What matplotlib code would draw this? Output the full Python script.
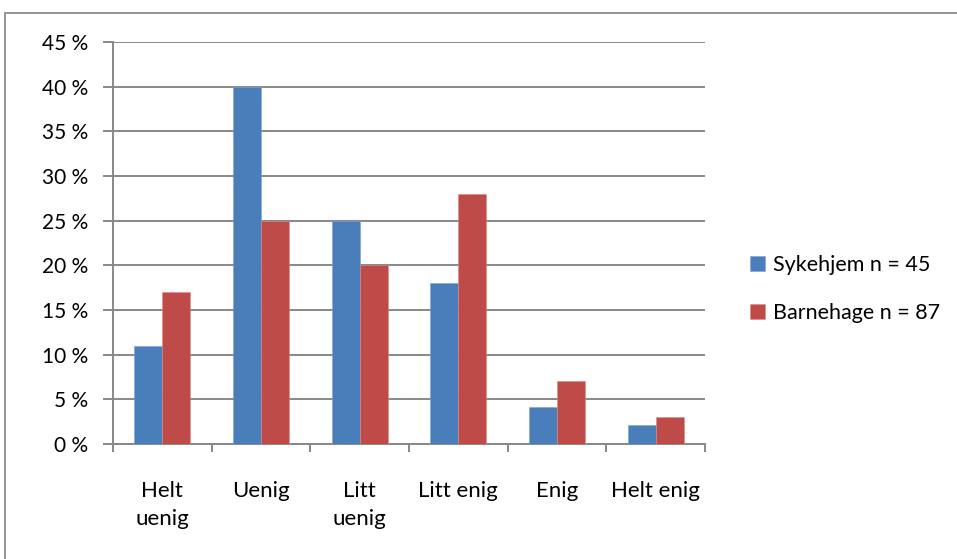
import matplotlib
matplotlib.use("Agg")
import matplotlib.pyplot as plt
from matplotlib.patches import Rectangle
import numpy as np

categories = ["Helt\nuenig", "Uenig", "Litt\nuenig", "Litt enig", "Enig", "Helt enig"]
sykehjem = [11, 40, 25, 18, 4.1, 2.1]
barnehage = [17, 25, 20, 28, 7, 3]
series_names = ["Sykehjem n = 45", "Barnehage n = 87"]
yticks = [0, 5, 10, 15, 20, 25, 30, 35, 40, 45]

plt.rcParams["font.family"] = ["Lato", "DejaVu Sans"]

fig = plt.figure(figsize=(9.57, 5.59), dpi=100)
ax = fig.add_axes([113 / 957, 1 - 444 / 559, (705 - 113) / 957, (444 - 42) / 559])

# outer chart frame (runs off the right and bottom edges)
fig.patches.append(Rectangle((5 / 957, -0.1), 1.2, 1 - 13 / 559 + 0.1,
                             transform=fig.transFigure, fill=False,
                             edgecolor="#8c8c8c", linewidth=1.3))

x = np.arange(len(categories))
w = 0.284
blue = "#4A7EBB"
red = "#BE4B48"
ax.bar(x - w / 2, sykehjem, w, color=blue, edgecolor="#7ea3d4", linewidth=0.4,
       label=series_names[0], zorder=3)
ax.bar(x + w / 2, barnehage, w, color=red, edgecolor="#d98a88", linewidth=0.4,
       label=series_names[1], zorder=3)

ax.set_xlim(-0.5, len(categories) - 0.5)
ax.set_ylim(0, 45)
ax.set_yticks(yticks)
ax.set_yticklabels([f"{t} %" for t in yticks], fontsize=15)
ax.yaxis.grid(True, color="#888888", linewidth=1.4, zorder=0)
ax.set_axisbelow(True)

ax.set_xticks(np.arange(-0.5, len(categories), 1.0))
ax.set_xticklabels([])
ax.set_xticks(x, minor=True)
ax.set_xticklabels(categories, minor=True, fontsize=16, linespacing=1.5)
ax.tick_params(axis="x", which="minor", length=0, pad=26.5)
ax.tick_params(axis="x", which="major", length=6, width=1.4, color="#888888")
ax.tick_params(axis="y", length=7, width=1.4, color="#888888", pad=11)

for side in ["top", "right"]:
    ax.spines[side].set_visible(False)
for side in ["left", "bottom"]:
    ax.spines[side].set_color("#888888")
    ax.spines[side].set_linewidth(1.4)

ax.legend(loc="center left", bbox_to_anchor=(741 / 957, 1 - 289 / 559),
          bbox_transform=fig.transFigure, frameon=False, fontsize=15.5,
          handlelength=0.7, handleheight=0.7, handletextpad=0.4,
          labelspacing=1.3, borderaxespad=0)

fig.savefig("out.png", dpi=100)
